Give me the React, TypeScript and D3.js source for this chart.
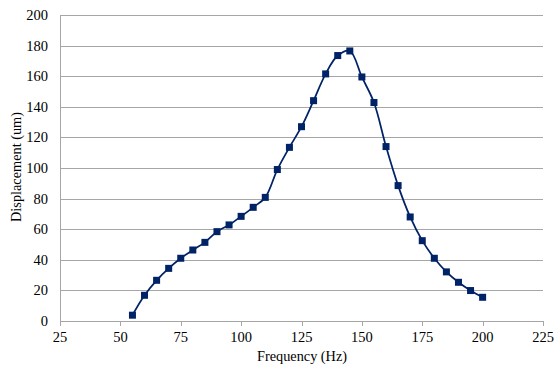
import React from "react";
import * as d3 from "d3";

const frequency = [55, 60, 65, 70, 75, 80, 85, 90, 95, 100, 105, 110, 115, 120, 125, 130, 135, 140, 145, 150, 155, 160, 165, 170, 175, 180, 185, 190, 195, 200];
const displacement = [3.8, 16.8, 26.6, 34.4, 41, 46.4, 51.4, 58.4, 62.8, 68.4, 74.3, 80.8, 99, 113.5, 127, 144, 161.5, 173.5, 176.5, 159.5, 142.8, 114, 88.5, 68, 52.5, 41, 32.1, 25.3, 19.9, 15.5];
const xTicks = [25, 50, 75, 100, 125, 150, 175, 200, 225];
const yTicks = [0, 20, 40, 60, 80, 100, 120, 140, 160, 180, 200];

const W = 557;
const H = 368;
const left = 60, right = 543, top = 15, bottom = 321;
const color = "#002266";
const font = "'Liberation Serif', 'Times New Roman', serif";

export default function App() {
  const x = d3.scaleLinear().domain([25, 225]).range([left, right]);
  const y = d3.scaleLinear().domain([0, 200]).range([bottom, top]);
  const pts: [number, number][] = frequency.map((f, i) => [f, displacement[i]]);
  const line = d3
    .line<[number, number]>()
    .x((d) => x(d[0]))
    .y((d) => y(d[1]))
    .curve(d3.curveCatmullRom.alpha(0.5));
  return (
    <svg width={W} height={H} style={{ position: "absolute", left: 0, top: 0, background: "#fff" }}>
      {yTicks.map((t) => (
        <line key={"g" + t} x1={left} x2={right} y1={Math.round(y(t)) + 0.5} y2={Math.round(y(t)) + 0.5} stroke="#a6a6a6" strokeWidth={1} />
      ))}
      <line x1={left + 0.5} x2={left + 0.5} y1={top} y2={bottom} stroke="#a6a6a6" />
      {xTicks.map((t) => (
        <line key={"t" + t} x1={Math.round(x(t)) + 0.5} x2={Math.round(x(t)) + 0.5} y1={bottom} y2={bottom + 5} stroke="#a6a6a6" />
      ))}
      {yTicks.map((t) => (
        <text key={"yl" + t} x={48} y={y(t) + 5} textAnchor="end" fontFamily={font} fontSize={14.5} fill="#000">
          {t}
        </text>
      ))}
      {xTicks.map((t) => (
        <text key={"xl" + t} x={x(t)} y={342} textAnchor="middle" fontFamily={font} fontSize={14.5} fill="#000">
          {t}
        </text>
      ))}
      <text x={302} y={361} textAnchor="middle" fontFamily={font} fontSize={14.3} fill="#000">
        Frequency (Hz)
      </text>
      <text transform={`translate(21,167) rotate(-90)`} textAnchor="middle" fontFamily={font} fontSize={14.3} fill="#000">
        Displacement (um)
      </text>
      <path d={line(pts) || ""} fill="none" stroke={color} strokeWidth={1.75} />
      {pts.map((p, i) => (
        <rect key={"m" + i} x={x(p[0]) - 3.5} y={y(p[1]) - 3.5} width={7} height={7} fill={color} />
      ))}
    </svg>
  );
}
